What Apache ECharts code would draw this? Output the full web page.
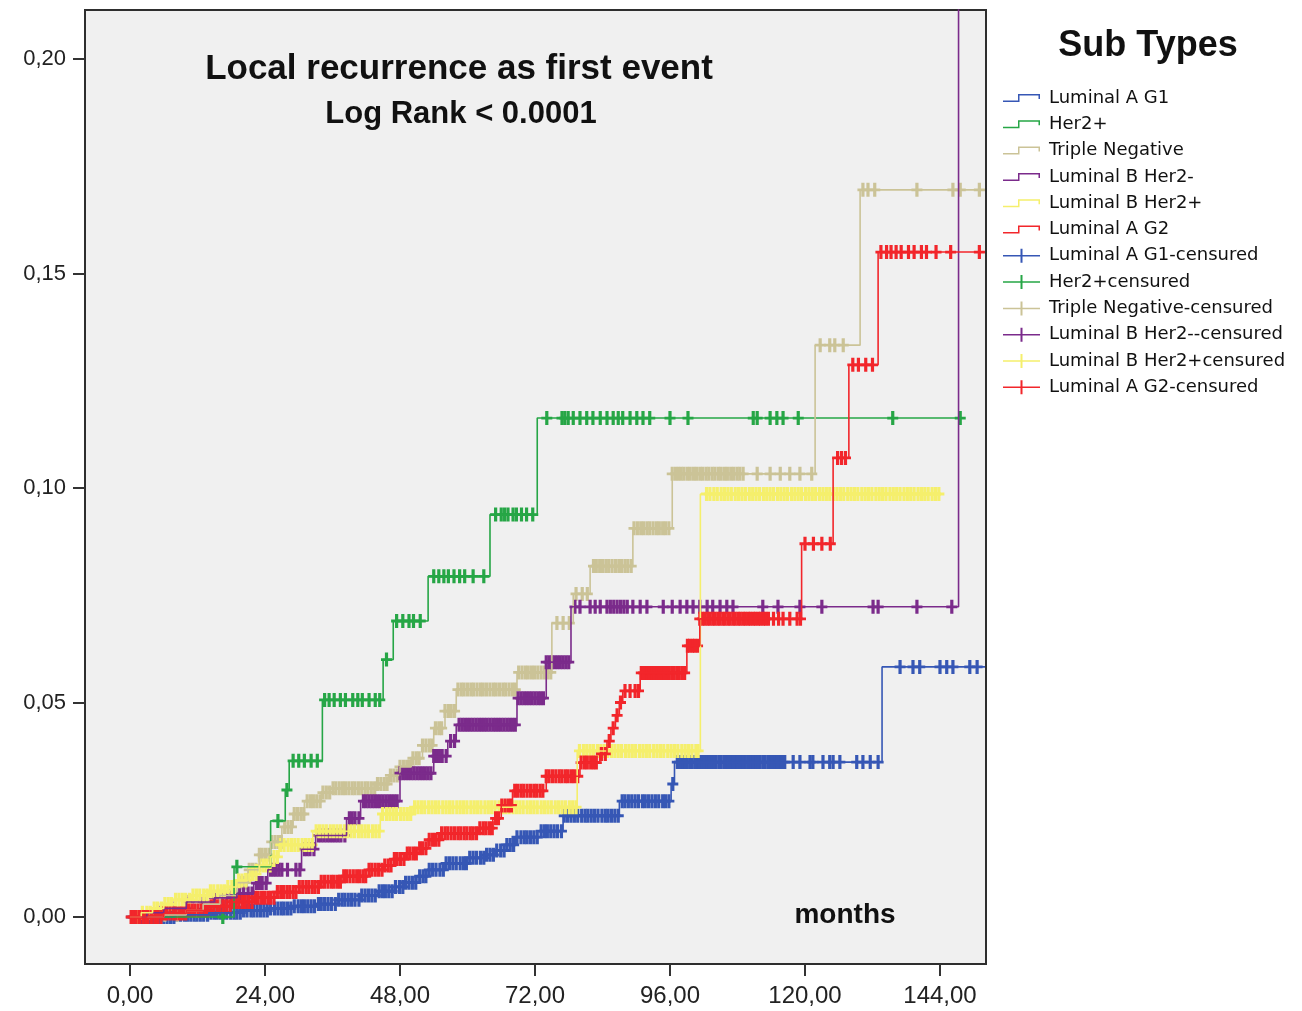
<!DOCTYPE html>
<html><head><meta charset="utf-8">
<script src="https://cdn.jsdelivr.net/npm/echarts@6/dist/echarts.min.js"></script>
<style>html,body{margin:0;padding:0;background:#fff}#c{width:1302px;height:1011px}</style>
</head><body><div id="c"></div>
<script>
// ---------- data ----------
const xTicks = [0, 24, 48, 72, 96, 120, 144];
const yTicks = [0, 0.05, 0.10, 0.15, 0.20];
const groups = ['Luminal A G1', 'Her2+', 'Triple Negative', 'Luminal B Her2-', 'Luminal B Her2+', 'Luminal A G2'];
const censNames = ['Luminal A G1-censured', 'Her2+censured', 'Triple Negative-censured', 'Luminal B Her2--censured', 'Luminal B Her2+censured', 'Luminal A G2-censured'];
const colors = ['#3657b5', '#26a646', '#cbc397', '#7b2b8b', '#f5ef6c', '#f2262b'];

// step functions: [month, cumulative incidence from that month on]
const lumA1Steps = [[0,0],[8,0.0005],[14,0.001],[20,0.0015],[25,0.002],[29,0.0025],[33,0.003],[37,0.004],[41,0.005],[44,0.006],[47,0.007],[49,0.008],[51,0.0095],[53,0.011],[56,0.0125],[60,0.0138],[63,0.0145],[65,0.0155],[67,0.0168],[68.5,0.0186],[73,0.020],[77,0.0236],[87,0.027],[96.2,0.031],[96.8,0.0361],[133.7,0.0583],[152,0.0583]];
const her2Steps = [[0,0],[18.5,0.0117],[25,0.0224],[27.6,0.0296],[28.3,0.0364],[34.2,0.0506],[45,0.060],[46.8,0.069],[53,0.0794],[64,0.0938],[72.4,0.1163],[148.4,0.1163]];
const tnSteps = [[0,0],[6,0.0005],[10,0.0015],[13,0.003],[16,0.005],[19,0.008],[21,0.011],[23,0.0145],[25,0.0175],[27,0.021],[29,0.024],[31,0.027],[34,0.029],[36,0.030],[44,0.031],[46,0.033],[48,0.035],[50,0.037],[52,0.040],[54,0.044],[56,0.048],[58,0.053],[68.8,0.057],[75,0.0685],[78.8,0.0753],[81.8,0.0818],[89.4,0.0906],[96.4,0.1033],[121.8,0.1333],[129.8,0.1695],[152,0.1695]];
const lumBnegSteps = [[0,0],[3,0.001],[6,0.002],[10,0.0035],[15,0.0045],[19,0.0055],[22,0.0079],[24.5,0.011],[30.5,0.0158],[33,0.019],[38.5,0.023],[41,0.027],[48,0.0335],[54,0.0375],[56.5,0.041],[58,0.0448],[68.8,0.051],[74,0.0594],[78.4,0.0723],[147.3,0.25],[152,0.25]];
const lumBposSteps = [[0,0],[2,0.001],[4,0.002],[6,0.003],[8,0.004],[11,0.005],[14,0.006],[17,0.007],[19,0.0085],[21,0.010],[23,0.012],[25,0.014],[26.5,0.0168],[32.5,0.020],[44.5,0.024],[50.3,0.0256],[79.5,0.0387],[101.4,0.0986],[144,0.0986]];
const lumA2Steps = [[0,0],[6,0.0008],[10,0.0015],[14,0.0025],[18,0.0035],[22,0.0045],[26,0.0058],[30,0.007],[34,0.0082],[38,0.0095],[42,0.011],[45,0.012],[47,0.0135],[49,0.0148],[51,0.016],[53,0.018],[55,0.0195],[62,0.0207],[64.5,0.023],[66,0.026],[68,0.0294],[74,0.0328],[80,0.036],[83.5,0.038],[84.8,0.041],[85.5,0.044],[86.3,0.047],[87,0.050],[87.6,0.0527],[90.7,0.0569],[99,0.0632],[101.3,0.0695],[119.4,0.087],[125,0.107],[127.8,0.1287],[133,0.155],[152,0.155]];

// censoring times (months)
const lumA1Cens = [0.3,1.4,2.6,3.5,4.9,6.0,7.2,8.3,9.7,10.8,11.9,13.1,14.4,15.5,16.6,17.9,19.0,20.2,21.5,22.6,23.8,25.0,26.3,27.4,28.6,29.9,31.0,32.2,33.5,34.6,35.8,37.1,38.2,39.4,40.7,41.8,43.0,44.3,45.4,46.6,47.9,49.0,50.2,51.5,52.6,53.8,55.1,56.2,57.4,58.7,59.8,61.0,62.3,63.4,64.6,65.9,67.0,68.2,69.5,70.6,71.8,73.1,74.2,75.4,76.7,77.8,79.0,80.3,81.4,82.6,83.9,85.0,86.2,87.5,88.6,89.8,91.1,92.2,93.4,94.7,95.8,96.5,97.3,98.2,99.0,99.9,100.8,101.6,102.5,103.4,104.2,105.1,106.0,106.8,107.7,108.6,109.4,110.3,111.2,112.0,112.9,113.8,114.6,115.5,116.4,117.9,119.1,120.9,121.4,123.2,124.4,125.0,126.2,129.2,130.3,131.6,133.0,136.9,139.2,140.4,144.0,145.2,146.3,149.3,150.6];
const lumA1CensB = [0.9,2.0,3.1,4.2,5.4,6.6,7.8,9.0,10.2,11.4,12.5,13.8,15.0,16.1,17.2,18.5,19.6,20.8,22.0,23.2,24.4,25.7,26.9,28.0,29.2,30.5,31.6,32.8,34.0,35.2,36.5,37.7,38.8,40.0,41.2,42.4,43.6,44.9,46.0,47.2,48.5,49.6,50.8,52.1,53.2,54.4,55.7,56.8,58.0,59.3,60.4,61.6,62.9,64.0,65.2,66.5,67.6,68.8,70.1,71.2,72.4,73.7,74.8,76.0,77.2,78.4,79.6,80.9,82.0,83.2,84.5,85.6,86.8,88.0,89.2,90.4,91.6,92.8,94.0,95.2,97.7,98.6,99.5,100.4,101.2,102.1,103.0,103.8,104.7,105.6,106.4,107.3,108.2,109.0,109.9,110.8,111.6,112.5,113.4,114.2,115.1,116.0];
const her2Cens = [16.5,19.0,26.3,27.9,29.0,30.0,31.0,32.2,33.3,34.6,35.4,36.3,37.4,38.3,39.6,40.5,41.3,42.5,43.6,44.4,45.6,47.4,48.5,49.6,50.4,51.6,54.0,54.9,55.8,56.6,57.6,58.6,59.5,61.0,62.9,65.0,66.0,66.6,67.2,68.1,68.7,69.6,70.5,71.6,74.1,76.8,77.3,77.9,78.8,80.0,81.2,82.3,83.6,84.8,85.9,86.8,87.6,88.9,90.1,91.2,92.4,96.0,99.2,110.8,111.5,113.8,115.0,116.1,118.8,135.6,147.6];
const tnCens = [6.2,8.4,10.1,11.8,13.3,14.9,16.2,17.6,18.9,20.1,21.2,22.4,23.5,24.7,25.8,26.9,28.1,29.2,30.4,31.5,32.6,33.8,34.9,36.1,37.2,38.3,39.5,40.6,41.8,42.9,44.0,45.2,46.3,47.5,48.6,49.7,50.9,52.0,53.2,54.3,55.4,56.6,57.7,58.9,60.0,61.1,62.3,63.4,64.6,65.7,66.8,68.0,69.1,70.3,71.4,72.5,73.7,74.8,75.9,77.0,78.1,79.3,80.4,81.3,82.4,83.5,84.6,85.7,86.9,88.0,89.1,90.2,91.3,92.4,93.6,94.7,95.8,97.0,98.0,99.1,100.2,101.3,102.4,103.5,104.6,105.7,106.8,107.9,109.0,111.5,113.8,115.6,117.3,119.1,121.2,122.7,124.4,125.3,126.8,130.3,131.2,132.4,139.9,146.3,147.6,151.0];
const tnCensB = [19.5,20.7,21.8,23.0,24.1,25.2,26.4,27.5,28.7,29.8,30.9,32.1,33.2,34.3,35.5,36.6,37.8,38.9,40.0,41.2,42.3,43.5,44.6,45.7,46.9,48.0,49.2,50.3,51.4,52.6,53.7,54.9,56.0,57.1,58.3,59.4,60.6,61.7,62.8,64.0,65.1,66.3,67.4,68.5,69.7,70.8,71.9,73.1,74.2,82.9,84.0,85.1,86.3,87.4,88.5,89.6,90.8,91.9,93.0,94.1,95.2,96.4,97.5,98.5,99.6,100.7,101.8,102.9,104.0,105.1,106.2,107.3,108.4];
const lumBnegCens = [2.0,5.5,8.0,10.5,13.0,15.0,16.5,18.0,19.5,21.0,22.5,23.5,25.0,26.0,27.0,29.5,31.0,32.0,33.5,34.5,35.5,36.5,37.5,39.0,40.0,41.5,42.5,43.5,44.5,45.5,46.5,47.5,48.5,49.5,50.5,51.5,52.5,53.5,54.5,55.5,57.0,58.5,59.5,60.5,61.5,62.5,63.5,64.5,65.5,66.5,67.5,68.5,69.5,70.5,71.5,72.5,73.5,74.5,75.5,76.5,77.5,79.1,80.0,81.8,82.7,83.6,84.8,85.4,86.0,86.6,87.2,87.8,88.4,89.4,90.7,91.9,94.8,96.4,97.8,99.0,100.1,101.3,102.6,103.6,104.9,106.1,107.2,112.5,115.2,119.1,123.0,132.1,133.0,139.9,146.1];
const lumBnegCensB = [17.2,18.8,20.2,21.7,23.0,24.2,25.5,26.5,28.0,30.2,31.5,32.7,34.0,35.0,36.0,37.0,38.2,39.5,40.7,42.0,43.0,44.0,45.0,46.0,47.0,48.0,49.0,50.0,51.0,52.0,53.0,54.0,55.0,56.2,57.7,59.0,60.0,61.0,62.0,63.0,64.0,65.0,66.0,67.0,68.0,69.0,70.0,71.0,72.0,73.0,74.0,75.0,76.0,77.0,78.0];
const lumBposCens = [1.5,3.0,4.3,5.6,6.8,8.1,9.3,10.6,11.8,13.1,14.3,15.6,16.8,18.1,19.3,20.6,21.8,23.1,24.3,25.6,26.8,28.1,29.3,30.6,31.8,33.1,34.3,35.6,36.8,38.1,39.3,40.6,41.8,43.1,44.3,45.6,46.8,48.1,49.3,50.6,51.8,53.1,54.3,55.6,56.8,58.1,59.3,60.6,61.8,63.1,64.3,65.6,66.8,68.1,69.3,70.6,71.8,73.1,74.3,75.6,76.8,78.1,79.3,80.6,81.8,83.1,84.3,85.6,86.8,88.1,89.3,90.6,91.8,93.1,94.3,95.6,96.8,98.1,99.3,100.6,102.5,103.8,105.1,106.3,107.6,108.8,110.1,111.3,112.6,113.8,115.1,116.3,117.6,118.8,120.1,121.3,122.6,123.8,125.1,126.3,127.6,128.8,130.1,131.3,132.6,133.8,135.1,136.3,137.6,138.8,140.1,141.3,142.6,143.8];
const lumBposCensB = [2.2,3.6,4.9,6.2,7.4,8.7,9.9,11.2,12.4,13.7,14.9,16.2,17.4,18.7,19.9,21.2,22.4,23.7,24.9,26.2,27.4,28.7,29.9,31.2,32.4,33.7,34.9,36.2,37.4,38.7,39.9,41.2,42.4,43.7,44.9,46.2,47.4,48.7,49.9,51.2,52.4,53.7,54.9,56.2,57.4,58.7,59.9,61.2,62.4,63.7,64.9,66.2,67.4,68.7,69.9,71.2,72.4,73.7,74.9,76.2,77.4,78.7,79.9,81.2,82.4,83.7,84.9,86.2,87.4,88.7,89.9,91.2,92.4,93.7,94.9,96.2,97.4,98.7,99.9,101.0,103.1,104.4,105.7,106.9,108.2,109.4,110.7,111.9,113.2,114.4,115.7,116.9,118.2,119.4,120.7,121.9,123.2,124.4,125.7,126.9,128.2,129.4,130.7,131.9,133.2,134.4,135.7,136.9,138.2,139.4,140.7,141.9,143.2];
const lumA2Cens = [0.2,1.1,2.3,3.2,4.4,5.5,6.5,7.7,8.8,9.9,11.0,12.1,13.3,14.4,15.5,16.6,17.8,18.9,20.0,21.1,22.3,23.4,24.5,25.6,26.8,27.9,29.0,30.1,31.3,32.4,33.5,34.6,35.8,36.9,38.0,39.1,40.3,41.4,42.5,43.6,44.8,45.9,47.0,48.1,49.3,50.4,51.5,52.6,53.8,54.9,56.0,57.1,58.3,59.4,60.5,61.6,62.8,63.9,65.0,66.1,67.3,68.4,69.5,70.6,71.8,72.9,74.0,75.1,76.3,77.4,78.5,79.6,80.8,81.9,82.9,83.8,84.5,85.2,85.9,86.6,87.2,88.0,88.9,89.8,90.9,91.8,92.7,93.6,94.5,95.4,96.3,97.2,98.1,99.1,100.0,100.9,101.8,102.7,103.6,104.5,105.4,106.3,107.2,108.1,109.0,109.9,110.8,111.7,112.6,113.5,114.4,115.3,116.1,117.3,118.6,119.2,120.0,121.5,123.0,124.5,125.8,126.5,127.2,128.5,129.5,130.8,132.0,133.5,134.5,135.3,136.2,137.1,138.4,139.4,140.7,141.6,143.3,145.9,151.0];
const lumA2CensB = [0.6,1.7,2.8,3.8,4.9,6.0,7.1,8.2,9.3,10.4,11.5,12.7,13.8,14.9,16.0,17.2,18.3,19.4,20.5,21.7,22.8,23.9,25.0,26.2,27.3,28.4,29.5,30.7,31.8,32.9,34.0,35.2,36.3,37.4,38.5,39.7,40.8,41.9,43.0,44.2,45.3,46.4,47.5,48.7,49.8,50.9,52.0,53.2,54.3,55.4,56.5,57.7,58.8,59.9,61.0,62.2,63.3,64.4,65.5,66.7,67.8,68.9,70.0,71.2,72.3,73.4,74.5,75.7,76.8,77.9,79.0,80.2,81.3,82.4,90.4,91.3,92.2,93.1,94.0,94.9,95.8,96.7,97.6,98.6,99.5,100.4,101.3,102.2,103.1,104.0,104.9,105.8,106.7,107.6,108.5,109.4,110.3,111.2,112.1,113.0];

const stepSets = [lumA1Steps, her2Steps, tnSteps, lumBnegSteps, lumBposSteps, lumA2Steps];
const censSets = [lumA1Cens.concat(lumA1CensB), her2Cens, tnCens.concat(tnCensB), lumBnegCens.concat(lumBnegCensB), lumBposCens.concat(lumBposCensB), lumA2Cens.concat(lumA2CensB)];

// ---------- chart ----------
function stepAt(steps, t) {
  let v = steps[0][1];
  for (const [x, y] of steps) { if (x <= t) v = y; else break; }
  return v;
}
const fmt = v => v.toFixed(2).replace('.', ',');
const stepIcon = 'path://M0,6.5H15V0H37V5H35.5V1.5H16.5V8H0Z';
const censIcon = 'path://M0,6.25H17.5V0H19.5V6.25H37V7.75H19.5V14H17.5V7.75H0Z';
const plusSym = 'path://M-1.6,-7H1.6V-1.4H5.5V1.4H1.6V7H-1.6V1.4H-5.5V-1.4H-1.6Z';

const series = [];
groups.forEach((g, i) => {
  series.push({
    name: g, type: 'line', step: 'end', data: stepSets[i],
    symbol: 'none', showSymbol: false, clip: true,
    lineStyle: { color: colors[i], width: 1.6 },
    itemStyle: { color: colors[i] }
  });
});
groups.forEach((g, i) => {
  series.push({
    name: censNames[i], type: 'scatter', clip: true,
    data: censSets[i].map(t => [t, stepAt(stepSets[i], t)]),
    symbol: plusSym, symbolSize: [11, 14],
    itemStyle: { color: colors[i], opacity: 1 }
  });
});

const chart = echarts.init(document.getElementById('c'));
chart.setOption({
  animation: false,
  backgroundColor: '#ffffff',
  grid: { left: 85, top: 10, width: 901, height: 954, show: true, backgroundColor: '#f0f0f0', borderColor: '#2e2e2e', borderWidth: 2 },
  xAxis: {
    type: 'value', min: -8, max: 152.18,
    axisLine: { show: false, onZero: false }, splitLine: { show: false },
    axisTick: { show: true, customValues: xTicks, length: 12, lineStyle: { color: '#333', width: 2 } },
    axisLabel: { customValues: xTicks, formatter: fmt, margin: 20, fontSize: 24, color: '#222', fontFamily: 'Liberation Sans' }
  },
  yAxis: {
    type: 'value', min: -0.01096, max: 0.21142,
    axisLine: { show: false, onZero: false }, splitLine: { show: false },
    axisTick: { show: true, customValues: yTicks, length: 12, lineStyle: { color: '#333', width: 2 } },
    axisLabel: { customValues: yTicks, formatter: fmt, margin: 19, fontSize: 22, color: '#222', fontFamily: 'Liberation Sans' }
  },
  legend: {
    orient: 'vertical', left: 998, top: 84, itemWidth: 37, itemHeight: 14, itemGap: 8.3,
    symbolKeepAspect: true, selectedMode: false,
    itemStyle: { borderWidth: 0 },
    textStyle: { fontFamily: 'DejaVu Sans', fontSize: 18, lineHeight: 18, color: '#111', padding: [0, 0, 0, 4] },
    data: groups.map(n => ({ name: n, icon: stepIcon })).concat(censNames.map(n => ({ name: n, icon: censIcon })))
  },
  graphic: [
    { type: 'text', z: 100, style: { text: 'Local recurrence as first event', x: 459, y: 69, align: 'center', verticalAlign: 'middle', textAlign: 'center', textVerticalAlign: 'middle', font: 'bold 35px "Liberation Sans"', fill: '#111' } },
    { type: 'text', z: 100, style: { text: 'Log Rank < 0.0001', x: 461, y: 114, align: 'center', verticalAlign: 'middle', textAlign: 'center', textVerticalAlign: 'middle', font: 'bold 31px "Liberation Sans"', fill: '#111' } },
    { type: 'text', z: 100, style: { text: 'months', x: 845, y: 915, align: 'center', verticalAlign: 'middle', textAlign: 'center', textVerticalAlign: 'middle', font: 'bold 28px "Liberation Sans"', fill: '#111' } },
    { type: 'text', z: 100, style: { text: 'Sub Types', x: 1148, y: 46, align: 'center', verticalAlign: 'middle', textAlign: 'center', textVerticalAlign: 'middle', font: 'bold 36px "Liberation Sans"', fill: '#111' } }
  ],
  series: series
});
</script>
</body></html>
